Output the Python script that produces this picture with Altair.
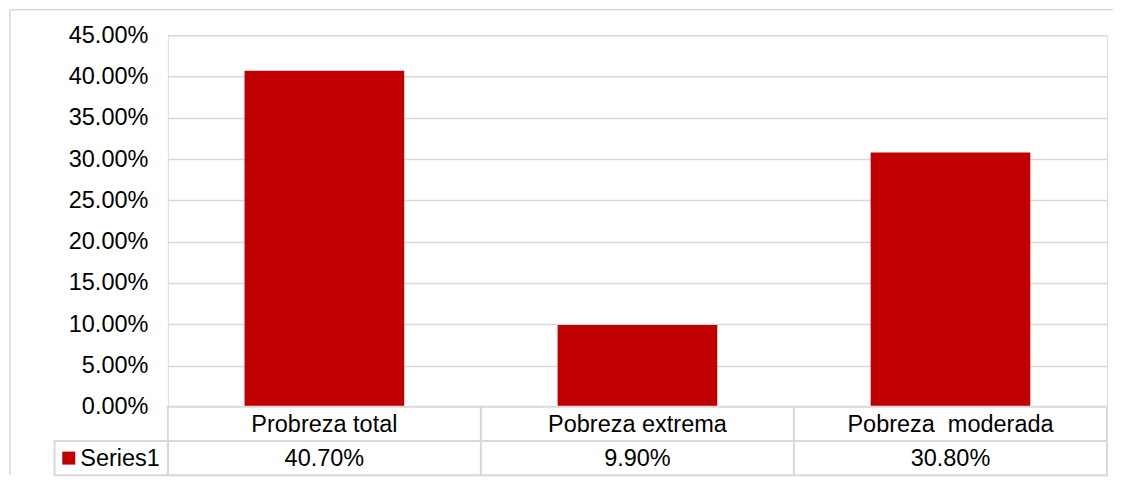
import altair as alt
import pandas as pd

# ---- data ----
categories = ["Probreza total", "Pobreza extrema", "Pobreza\u00a0 moderada"]
values = [0.407, 0.099, 0.308]
series_name = "Series1"
y_ticks = [0.0, 0.05, 0.10, 0.15, 0.20, 0.25, 0.30, 0.35, 0.40, 0.45]

# ---- styling / layout ----
RED = "#C00000"
GRID = "#D9D9D9"
FONT = "Liberation Sans"
FS = 23.5
PLOT_W = 940
PLOT_H = 372
ROW_H = 34.2
LEG_W = 113.4

bars_df = pd.DataFrame({"cat": categories, "val": values})
one = pd.DataFrame({"series": [series_name]})

xband = alt.Scale(domain=categories, paddingInner=0.49, paddingOuter=0.245)

bars = alt.Chart(bars_df).mark_bar(color=RED).encode(
    x=alt.X("cat:N", sort=categories, scale=xband, axis=None),
    y=alt.Y(
        "val:Q",
        scale=alt.Scale(domain=[0, 0.45], nice=False),
        axis=alt.Axis(
            values=y_ticks, format=".2%", grid=True, gridColor=GRID, gridWidth=1.5,
            domain=False, ticks=False, labelFontSize=FS, labelFont=FONT,
            labelColor="black", labelPadding=20, title=None,
        ),
    ),
)

border_top = alt.Chart(one).mark_rule(color=GRID, strokeWidth=1.5).encode(
    x=alt.value(-158.0), x2=alt.value(946.0), y=alt.value(-25.5)
)
border_left = alt.Chart(one).mark_rule(color=GRID, strokeWidth=1.5).encode(
    x=alt.value(-158.0), y=alt.value(-25.5), y2=alt.value(440.0)
)

top = alt.layer(bars, border_top, border_left).properties(width=PLOT_W, height=PLOT_H)

tband = alt.Scale(domain=categories, paddingInner=0, paddingOuter=0)
cell_style = dict(fill="white", stroke=GRID, strokeWidth=2)

hdr_cells = alt.Chart(bars_df).mark_rect(**cell_style).encode(
    x=alt.X("cat:N", sort=categories, scale=tband, axis=None),
    y=alt.value(0), y2=alt.value(ROW_H),
)
val_cells = alt.Chart(bars_df).mark_rect(**cell_style).encode(
    x=alt.X("cat:N", sort=categories, scale=tband, axis=None),
    y=alt.value(ROW_H), y2=alt.value(2 * ROW_H),
)
leg_cell = alt.Chart(one).mark_rect(**cell_style).encode(
    x=alt.value(-LEG_W), x2=alt.value(0), y=alt.value(ROW_H), y2=alt.value(2 * ROW_H)
)
hdr_text = alt.Chart(bars_df).mark_text(
    font=FONT, fontSize=FS, color="black", align="center", baseline="middle"
).encode(
    x=alt.X("cat:N", sort=categories, scale=tband, axis=None),
    y=alt.value(ROW_H / 2 + 1),
    text="cat:N",
)
val_text = alt.Chart(bars_df).mark_text(
    font=FONT, fontSize=FS, color="black", align="center", baseline="middle"
).encode(
    x=alt.X("cat:N", sort=categories, scale=tband, axis=None),
    y=alt.value(1.5 * ROW_H + 1),
    text=alt.Text("val:Q", format=".2%"),
)
leg_square = alt.Chart(one).mark_square(color=RED, size=169, opacity=1).encode(
    x=alt.value(-LEG_W + 14.2), y=alt.value(1.5 * ROW_H)
)
leg_text = alt.Chart(one).mark_text(
    font=FONT, fontSize=FS, color="black", align="left", baseline="middle"
).encode(
    x=alt.value(-LEG_W + 25.7), y=alt.value(1.5 * ROW_H + 1), text="series:N"
)

table = alt.layer(
    hdr_cells, val_cells, leg_cell, hdr_text, val_text, leg_square, leg_text
).properties(width=PLOT_W, height=2 * ROW_H)

chart = (
    alt.vconcat(top, table, spacing=0, bounds="flush")
    .resolve_scale(x="independent")
    .properties(padding=0)
    .configure_view(stroke=None)
    .configure(font=FONT)
)

chart.save("out.html", embed_options={"renderer": "svg", "actions": False})
